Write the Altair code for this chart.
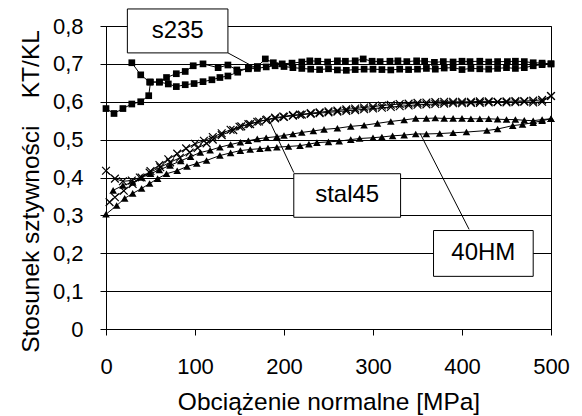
import altair as alt
import pandas as pd

# ---- data ----
s235_load_x = [0, 9, 19, 29, 39, 48, 50, 60, 70, 79, 89, 99, 109, 119, 128, 137, 148, 160, 170, 179, 188, 198, 209, 220, 229, 238, 249, 260, 269, 280, 289, 299, 308, 319, 328, 338, 349, 358, 369, 379, 390, 400, 409, 420, 430, 440, 451, 460, 470, 480, 490, 500]
s235_load_y = [0.582, 0.569, 0.582, 0.594, 0.600, 0.616, 0.652, 0.652, 0.647, 0.640, 0.645, 0.648, 0.653, 0.658, 0.664, 0.668, 0.678, 0.690, 0.693, 0.713, 0.703, 0.700, 0.702, 0.705, 0.708, 0.707, 0.705, 0.708, 0.707, 0.708, 0.713, 0.707, 0.706, 0.707, 0.708, 0.706, 0.708, 0.707, 0.704, 0.706, 0.705, 0.707, 0.706, 0.707, 0.705, 0.706, 0.706, 0.707, 0.706, 0.703, 0.702, 0.700]
s235_unl_x = [500, 490, 480, 470, 460, 450, 440, 430, 420, 410, 400, 390, 380, 370, 360, 350, 340, 330, 320, 310, 300, 290, 280, 270, 260, 250, 240, 230, 220, 210, 200, 190, 180, 170, 160, 147, 137, 126, 109, 98, 89, 79, 68, 60, 49, 39, 29]
s235_unl_y = [0.700, 0.698, 0.695, 0.690, 0.688, 0.690, 0.688, 0.686, 0.687, 0.688, 0.685, 0.690, 0.689, 0.686, 0.688, 0.686, 0.685, 0.686, 0.684, 0.685, 0.686, 0.686, 0.685, 0.683, 0.684, 0.687, 0.685, 0.686, 0.688, 0.690, 0.693, 0.695, 0.692, 0.688, 0.687, 0.684, 0.697, 0.690, 0.700, 0.695, 0.680, 0.674, 0.664, 0.652, 0.652, 0.671, 0.703]

stal45_load_x = [0, 10, 19, 29, 38, 49, 61, 72, 83, 94, 103, 113, 120, 130, 143, 152, 162, 172, 181, 190, 199, 210, 218, 230, 240, 250, 260, 270, 280, 290, 300, 310, 320, 330, 340, 350, 360, 370, 380, 390, 400, 410, 420, 430, 440, 450, 460, 470, 480, 490, 500]
stal45_load_y = [0.418, 0.397, 0.390, 0.392, 0.400, 0.413, 0.427, 0.440, 0.452, 0.466, 0.478, 0.490, 0.500, 0.512, 0.525, 0.535, 0.541, 0.548, 0.553, 0.558, 0.561, 0.565, 0.566, 0.570, 0.572, 0.575, 0.577, 0.580, 0.582, 0.585, 0.587, 0.590, 0.592, 0.594, 0.595, 0.597, 0.598, 0.599, 0.600, 0.600, 0.600, 0.600, 0.601, 0.601, 0.600, 0.601, 0.602, 0.602, 0.603, 0.605, 0.615]
stal45_unl_x = [500, 490, 480, 470, 460, 450, 440, 430, 420, 410, 400, 390, 380, 370, 360, 350, 340, 330, 320, 310, 300, 290, 280, 270, 260, 250, 240, 230, 220, 210, 200, 190, 180, 170, 160, 150, 140, 130, 120, 110, 100, 90, 80, 70, 60, 50, 40, 30, 20, 10, 4]
stal45_unl_y = [0.615, 0.600, 0.598, 0.600, 0.599, 0.598, 0.599, 0.598, 0.597, 0.597, 0.596, 0.596, 0.595, 0.594, 0.593, 0.592, 0.590, 0.588, 0.586, 0.584, 0.582, 0.580, 0.578, 0.576, 0.574, 0.572, 0.570, 0.568, 0.566, 0.563, 0.560, 0.556, 0.552, 0.547, 0.541, 0.534, 0.526, 0.517, 0.507, 0.497, 0.489, 0.477, 0.463, 0.448, 0.433, 0.417, 0.400, 0.383, 0.365, 0.348, 0.335]

hm40_load_x = [0, 12, 21, 30, 40, 49, 58, 68, 80, 91, 102, 113, 128, 140, 151, 162, 173, 182, 192, 205, 218, 228, 237, 250, 262, 275, 285, 300, 310, 322, 335, 348, 360, 375, 390, 405, 428, 440, 457, 468, 480, 490, 500]
hm40_load_y = [0.303, 0.326, 0.345, 0.358, 0.371, 0.384, 0.397, 0.410, 0.418, 0.429, 0.437, 0.445, 0.458, 0.465, 0.471, 0.474, 0.476, 0.478, 0.480, 0.482, 0.484, 0.488, 0.492, 0.494, 0.496, 0.500, 0.503, 0.505, 0.507, 0.510, 0.512, 0.515, 0.515, 0.516, 0.518, 0.520, 0.524, 0.528, 0.537, 0.540, 0.545, 0.550, 0.555]
hm40_unl_x = [500, 490, 480, 470, 460, 450, 440, 430, 420, 410, 400, 390, 380, 370, 360, 348, 335, 320, 305, 290, 275, 260, 245, 233, 220, 210, 200, 192, 180, 170, 160, 151, 140, 128, 117, 106, 95, 84, 72, 60, 50, 40, 30, 19, 8]
hm40_unl_y = [0.555, 0.553, 0.550, 0.551, 0.553, 0.553, 0.554, 0.555, 0.555, 0.555, 0.556, 0.556, 0.556, 0.557, 0.556, 0.556, 0.552, 0.548, 0.543, 0.538, 0.535, 0.530, 0.527, 0.523, 0.519, 0.515, 0.511, 0.508, 0.505, 0.502, 0.497, 0.493, 0.487, 0.480, 0.472, 0.466, 0.455, 0.444, 0.432, 0.420, 0.410, 0.400, 0.387, 0.379, 0.366]

labels = ["s235", "stal45", "40HM"]
box_x = [[24, 137], [211, 331], [368, 480]]
box_y = [[0.845, 0.729], [0.410, 0.295], [0.260, 0.139]]
leader = [[137, 0.729, 170, 0.687], [211, 0.413, 182, 0.558], [408, 0.263, 353, 0.516]]

y_ticks = [0, 0.1, 0.2, 0.3, 0.4, 0.5, 0.6, 0.7, 0.8]
x_ticks = [0, 100, 200, 300, 400, 500]

# ---- tables ----
rows = []
def add(series, branch, xs, ys):
    for i, (a, b) in enumerate(zip(xs, ys)):
        rows.append({"x": a, "y": b, "series": series, "key": series + branch, "i": i})

add("s235", "L", s235_load_x, s235_load_y)
add("s235", "U", s235_unl_x, s235_unl_y)
add("stal45", "L", stal45_load_x, stal45_load_y)
add("stal45", "U", stal45_unl_x, stal45_unl_y)
add("40HM", "L", hm40_load_x, hm40_load_y)
add("40HM", "U", hm40_unl_x, hm40_unl_y)
df = pd.DataFrame(rows)

ann = pd.DataFrame({
    "label": labels,
    "x1": [b[0] for b in box_x], "x2": [b[1] for b in box_x],
    "y1": [b[0] for b in box_y], "y2": [b[1] for b in box_y],
    "xc": [(b[0] + b[1]) / 2 for b in box_x], "yc": [(b[0] + b[1]) / 2 for b in box_y],
    "lx1": [l[0] for l in leader], "ly1": [l[1] for l in leader],
    "lx2": [l[2] for l in leader], "ly2": [l[3] for l in leader],
})

FONT = "Liberation Sans"
xs = alt.Scale(domain=[0, 500], nice=False, zero=False)
ys = alt.Scale(domain=[0, 0.8], nice=False)

xaxis = alt.Axis(
    values=x_ticks, title="Obciążenie normalne [MPa]", grid=False,
    labelFontSize=22, titleFontSize=24.5, labelFont=FONT, titleFont=FONT,
    labelColor="black", titleColor="black", titleFontWeight="normal",
    domainColor="black", tickColor="black", tickSize=6, labelPadding=21,
    titlePadding=13, labelFlush=False, labelOverlap=False)
yaxis = alt.Axis(
    values=y_ticks, title="Stosunek sztywności\u00a0\u00a0\u00a0\u00a0KT/KL",
    labelExpr="datum.value == 0 ? '0' : replace(format(datum.value, '.1f'), '.', ',')",
    grid=True, gridColor="black", gridWidth=1, gridOpacity=1,
    labelFontSize=22, titleFontSize=24.5, labelFont=FONT, titleFont=FONT,
    labelColor="black", titleColor="black", titleFontWeight="normal",
    domainColor="black", tickColor="black", tickSize=6, labelPadding=17,
    titlePadding=9, labelFlush=False, labelOverlap=False, titleY=165)


def X(f):
    return alt.X(f, scale=xs, axis=xaxis)


def Y(f):
    return alt.Y(f, scale=ys, axis=yaxis)


lines = alt.Chart(df).mark_line(color="black", strokeWidth=1).encode(
    x=X("x:Q"), y=Y("y:Q"), detail="key:N", order="i:Q")

pts_sq = alt.Chart(df).transform_filter(alt.datum.series == "s235").mark_point(
    shape="square", filled=True, color="black", size=45, opacity=1).encode(x=X("x:Q"), y=Y("y:Q"))
pts_x = alt.Chart(df).transform_filter(alt.datum.series == "stal45").mark_point(
    shape="M-1,-1L1,1M1,-1L-1,1", filled=False, color="black", size=60,
    strokeWidth=1.2, opacity=1).encode(x=X("x:Q"), y=Y("y:Q"))
pts_tri = alt.Chart(df).transform_filter(alt.datum.series == "40HM").mark_point(
    shape="triangle-up", filled=True, color="black", size=58, opacity=1).encode(x=X("x:Q"), y=Y("y:Q"))

leaders = alt.Chart(ann).mark_rule(color="black", strokeWidth=1).encode(
    x=X("lx1:Q"), y=Y("ly1:Q"), x2="lx2:Q", y2="ly2:Q")
boxes = alt.Chart(ann).mark_rect(fill="white", stroke="black", strokeWidth=1).encode(
    x=X("x1:Q"), x2="x2:Q", y=Y("y1:Q"), y2="y2:Q")
texts = alt.Chart(ann).mark_text(font=FONT, fontSize=24, color="black",
                                 align="center", baseline="middle").encode(
    x=X("xc:Q"), y=Y("yc:Q"), text="label:N")

chart = alt.layer(lines, pts_sq, pts_x, pts_tri, leaders, boxes, texts).properties(
    width=445, height=303,
    autosize=alt.AutoSizeParams(type="none"),
    padding={"left": 98, "top": 18, "right": 23, "bottom": 86},
    background="white",
).configure_view(stroke="black", strokeWidth=1)

chart.save("out.html", embed_options={"renderer": "svg", "actions": False})
